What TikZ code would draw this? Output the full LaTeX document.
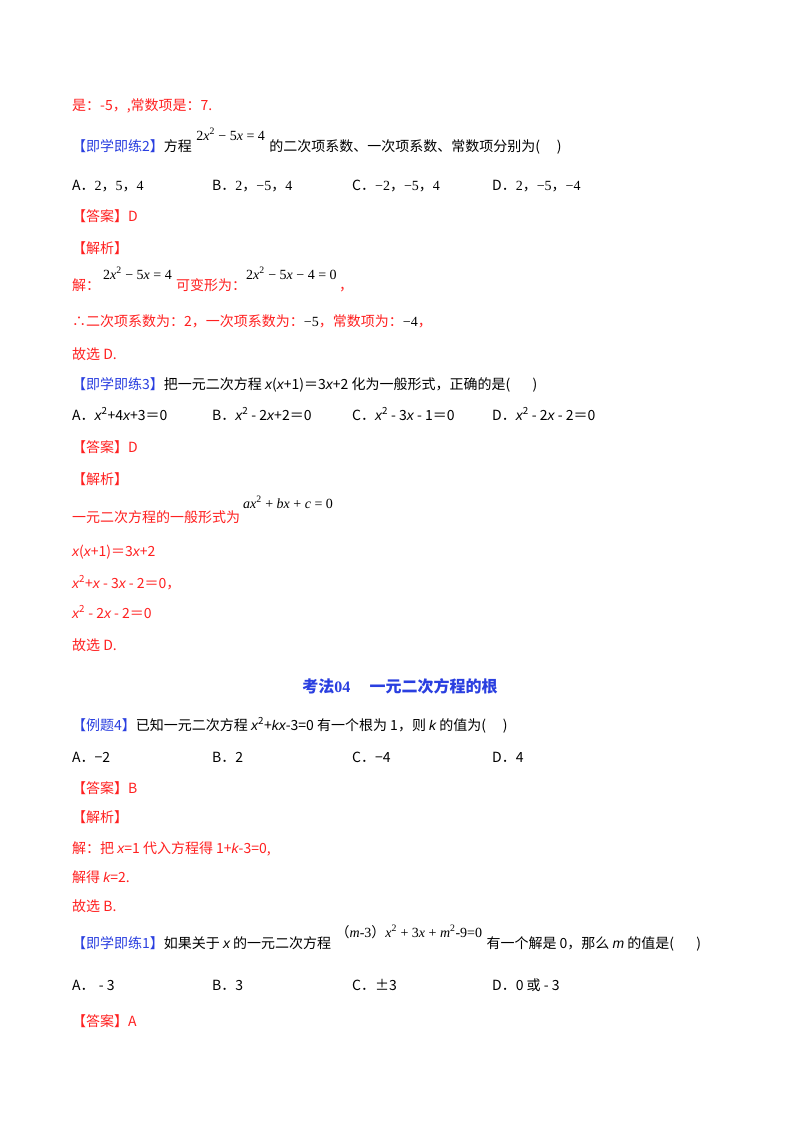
\documentclass[tikz,border=0pt]{standalone}
\usepackage{fontspec}
\setmainfont{Noto Sans CJK SC}
\newfontfamily\ser{Liberation Serif}
\newfontfamily\lsans{Liberation Sans}
\definecolor{rd}{HTML}{FF2020}
\definecolor{bl}{HTML}{2A3FE0}
\newcounter{tn}
\newcommand\tx[3]{\stepcounter{tn}\node[anchor=base west,inner sep=0pt] (t\arabic{tn}) at (#1,-#2) {#3};}
\newcommand\nx[2]{\stepcounter{tn}\node[anchor=base west,inner sep=0pt] (t\arabic{tn}) at ([xshift=4pt,yshift=#1pt]t\the\numexpr\value{tn}-1\relax.base east) {#2};}
\newcommand\fm[1]{{\ser #1}}
\newcommand\iv[1]{{\ser\itshape #1}}
\newcommand\is[1]{{\lsans\itshape #1}}
\newcommand\cm{{\rmfamily，}}
\newcommand\bt[1]{\textcolor{bl}{【#1】}}
\newcommand\an{\textcolor{rd}{【答案】}}
\newcommand\jx{\textcolor{rd}{【解析】}}
\begin{document}
\begin{tikzpicture}[x=1pt,y=1pt,every node/.style={font=\fontsize{14}{16}\selectfont}]
\useasboundingbox[fill=white] (0,0) rectangle (800,-1132);
\tx{72}{110}{\color{rd}是：-5，,常数项是：7.}
\tx{72}{151}{\bt{即学即练2}方程}
\nx{11}{\fm{2\iv{x}\textsuperscript{2} − 5\iv{x} = 4}}
\nx{-11}{的二次项系数、一次项系数、常数项分别为(\hspace{1.2em})}
\tx{72}{190}{A．\fm{2\cm5\cm4}}
\tx{212}{190}{B．\fm{2\cm−5\cm4}}
\tx{352}{190}{C．\fm{−2\cm−5\cm4}}
\tx{492}{190}{D．\fm{2\cm−5\cm−4}}
\tx{72}{221}{\an\textcolor{rd}{D}}
\tx{72}{253}{\jx}
\tx{72}{290}{\color{rd}解：}
\tx{103}{279}{\fm{2\iv{x}\textsuperscript{2} − 5\iv{x} = 4}}
\tx{176}{290}{\color{rd}可变形为：}
\tx{246}{279}{\fm{2\iv{x}\textsuperscript{2} − 5\iv{x} − 4 = 0}}
\tx{339}{290}{\color{rd}，}
\tx{72}{326}{\color{rd}∴二次项系数为：2，一次项系数为：\fm{\color{black}−5}，常数项为：\fm{\color{black}−4}，}
\tx{72}{359}{\color{rd}故选 D.}
\tx{72}{389}{\bt{即学即练3}把一元二次方程 \is{x}(\is{x}+1)＝3\is{x}+2 化为一般形式，正确的是(\hspace{1.6em})}
\tx{72}{420}{A．\is{x}\textsuperscript{2}+4\is{x}+3＝0}
\tx{212}{420}{B．\is{x}\textsuperscript{2} - 2\is{x}+2＝0}
\tx{352}{420}{C．\is{x}\textsuperscript{2} - 3\is{x} - 1＝0}
\tx{492}{420}{D．\is{x}\textsuperscript{2} - 2\is{x} - 2＝0}
\tx{72}{452}{\an\textcolor{rd}{D}}
\tx{72}{484}{\jx}
\tx{72}{522}{\color{rd}一元二次方程的一般形式为}
\tx{243}{508}{\fm{\iv{ax}\textsuperscript{2} + \iv{bx} + \iv{c} = 0}}
\tx{72}{556}{\color{rd}\is{x}(\is{x}+1)＝3\is{x}+2}
\tx{72}{588}{\color{rd}\is{x}\textsuperscript{2}+\is{x} - 3\is{x} - 2＝0，}
\tx{72}{618}{\color{rd}\is{x}\textsuperscript{2} - 2\is{x} - 2＝0}
\tx{72}{650}{\color{rd}故选 D.}
\stepcounter{tn}\node[anchor=base,inner sep=0pt,font=\fontsize{16}{18}\selectfont\bfseries,text=bl] (t\arabic{tn}) at (400,-692) {考法\fm{\textbf{04}}\hspace{1.2em}一元二次方程的根};
\tx{72}{730}{\bt{例题4}已知一元二次方程 \is{x}\textsuperscript{2}+\is{kx}-3=0 有一个根为 1，则 \is{k} 的值为(\hspace{1.2em})}
\tx{72}{762}{A．−2}
\tx{212}{762}{B．2}
\tx{352}{762}{C．−4}
\tx{492}{762}{D．4}
\tx{72}{793}{\an\textcolor{rd}{B}}
\tx{72}{822}{\jx}
\tx{72}{853}{\color{rd}解：把 \is{x}=1 代入方程得 1+\is{k}-3=0,}
\tx{72}{882}{\color{rd}解得 \is{k}=2.}
\tx{72}{911}{\color{rd}故选 B.}
\tx{72}{948}{\bt{即学即练1}如果关于 \is{x} 的一元二次方程}
\nx{11}{\fm{{\rmfamily（}\iv{m}-3{\rmfamily）}\iv{x}\textsuperscript{2} + 3\iv{x} + \iv{m}\textsuperscript{2}-9=0}}
\nx{-11}{有一个解是 0，那么 \is{m} 的值是(\hspace{1.6em})}
\tx{72}{990}{A．\hspace{0.3em}- 3}
\tx{212}{990}{B．3}
\tx{352}{990}{C．±3}
\tx{492}{990}{D．0 或 - 3}
\tx{72}{1026}{\an\textcolor{rd}{A}}
\end{tikzpicture}
\end{document}
